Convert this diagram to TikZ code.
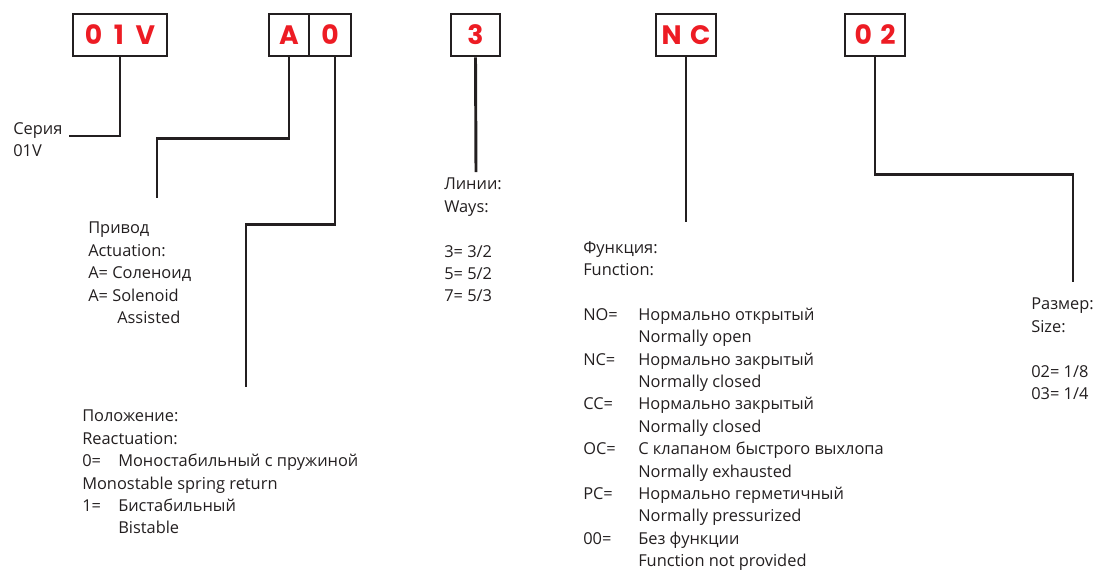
\documentclass[tikz,border=0pt]{standalone}
\usepackage{fontspec}
\setmainfont{Open Sans}
\newfontfamily\codefont{Poppins}
\usetikzlibrary{calc,positioning}
\definecolor{codered}{HTML}{ED1C24}
\definecolor{ink}{HTML}{231F20}

\begin{document}
\begin{tikzpicture}[x=0.75pt,y=-0.75pt,
    codebox/.style={draw=ink,line width=2.2pt,minimum height=31.5pt,inner sep=0pt,
      text=codered,font=\codefont\bfseries\fontsize{20}{20}\selectfont},
    link/.style={draw=ink,line width=2.2pt},
    legend/.style={anchor=north west,inner sep=0pt,align=left,text=ink,
      font=\fontsize{12.3}{16.8}\selectfont}]
  \useasboundingbox (0,0) rectangle (1096,569);
  %% Define constants
  \def\gap{16.8pt}
  \def\pcol{27pt}
  \def\fcol{41.25pt}
  %% Code boxes
  \node[codebox,minimum width=70.5pt] (c01V) at (120,35) {0\hspace{4.5pt} 1\hspace{4.5pt} V};
  \node[codebox,minimum width=30pt] (cA) at (289,35) {A};
  \node[codebox,minimum width=31.5pt] (c0) at (330,35) {0};
  \node[codebox,minimum width=36.75pt] (c3) at (475.5,35) {3};
  \node[codebox,minimum width=45pt] (cNC) at (686,35) {N\hspace{2pt} C};
  \node[codebox,minimum width=45pt] (c02) at (875,35) {0\hspace{2pt} 2};
  %% Free ends of the connectors
  \coordinate (serEnd) at (69,136);
  \coordinate (actEnd) at (157,198);
  \coordinate (reaEnd) at (246,387);
  \coordinate (waysEnd) at (476,172);
  \coordinate (funEnd) at (686,222);
  \coordinate (sizeEnd) at (1073,282);
  %% Connectors
  \draw[link] (c01V.south) |- (serEnd);
  \draw[link] (cA.south) -- ++(0,81) -| (actEnd);
  \draw[link] ($(c0.south)+(5,0)$) -- ++(0,167) -| (reaEnd);
  \draw[link] (c3.south) -- (waysEnd);
  \draw[link] (cNC.south) -- (funEnd);
  \draw[link] (c02.south) -- ++(0,117) -| (sizeEnd);
  %% Legends
  \node[legend] (series) at (13,122) {Серия\\01V};
  \node[legend] (actuation) at (88,222) {Привод\\Actuation:\\A= Соленоид\\A= Solenoid\\\hspace*{21.75pt}Assisted};
  \node[legend] (reactuation) at (82,410) {Положение:\\Reactuation:\\
    \makebox[\pcol][l]{0=}Моностабильный с пружиной\\Monostable spring return\\
    \makebox[\pcol][l]{1=}Бистабильный\\\hspace*{\pcol}Bistable};
  \node[legend] (ways) at (444,178) {Линии:\\Ways:\\[\gap]3= 3/2\\5= 5/2\\7= 5/3};
  \node[legend] (function) at (583,241) {Функция:\\Function:\\[\gap]
    \makebox[\fcol][l]{NO=}Нормально открытый\\\hspace*{\fcol}Normally open\\
    \makebox[\fcol][l]{NC=}Нормально закрытый\\\hspace*{\fcol}Normally closed\\
    \makebox[\fcol][l]{CC=}Нормально закрытый\\\hspace*{\fcol}Normally closed\\
    \makebox[\fcol][l]{OC=}С клапаном быстрого выхлопа\\\hspace*{\fcol}Normally exhausted\\
    \makebox[\fcol][l]{PC=}Нормально герметичный\\\hspace*{\fcol}Normally pressurized\\
    \makebox[\fcol][l]{00=}Без функции\\\hspace*{\fcol}Function not provided};
  \node[legend] (size) at (1031,298) {Размер:\\Size:\\[\gap]02= 1/8\\03= 1/4};
\end{tikzpicture}
\end{document}
